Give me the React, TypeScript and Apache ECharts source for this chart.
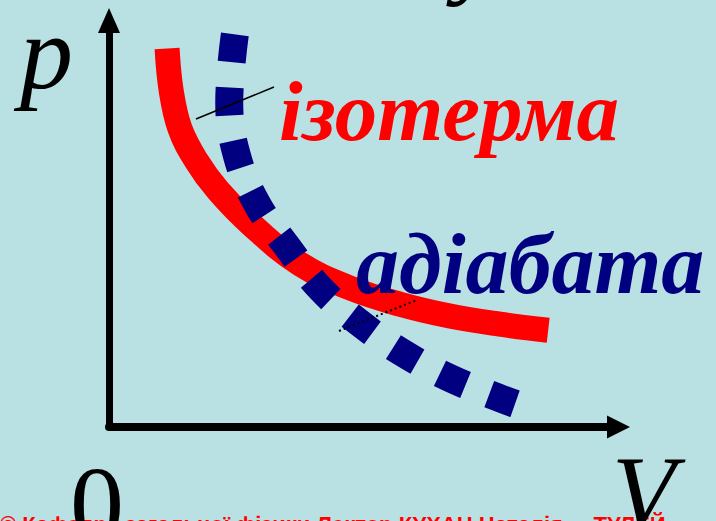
import React, { useEffect, useRef } from "react";
import * as echarts from "echarts";

// Isotherm (red, solid) — volume V and pressure p
const isoV = [1.14, 1.22, 1.39, 1.71, 2.14, 2.81, 3.75, 4.73, 5.71, 6.69, 7.67, 8.62];
const isoP = [9.31, 8.28, 7.35, 6.56, 5.82, 4.96, 4.01, 3.42, 3.02, 2.73, 2.53, 2.38];

// Adiabat (navy, square-dotted)
const adiV = [2.47, 2.36, 2.51, 2.91, 3.49, 4.16, 4.95, 5.81, 6.73, 7.71, 7.97];
const adiP = [9.66, 7.99, 6.68, 5.48, 4.45, 3.39, 2.53, 1.79, 1.18, 0.69, 0.57];

// Texts
const isoLabel = "ізотерма";
const adiLabel = "адіабата";
const yName = "p";
const xName = "V";
const originLabel = "0";
const footer = "© Кафедра загальної фізики Лектор КУХАН Наталія,    ТУЛЕЙ";

const SERIF = "'Liberation Serif', 'Times New Roman', serif";

export default function App() {
  const ref = useRef<HTMLDivElement>(null);
  useEffect(() => {
    if (!ref.current) return;
    const chart = echarts.init(ref.current, null, { renderer: "svg" });
    const zip = (a: number[], b: number[]) => a.map((v, i) => [v, b[i]]);
    chart.setOption({
      animation: false,
      backgroundColor: "#b9e0e3",
      grid: { left: 109, right: 97.5, top: 20.5, bottom: 94 },
      xAxis: {
        type: "value",
        min: 0,
        max: 10,
        axisLine: {
          show: true,
          symbol: ["none", "triangle"],
          symbolSize: [23, 23],
          lineStyle: { color: "#000", width: 8 },
        },
        axisTick: { show: false },
        axisLabel: { show: false },
        splitLine: { show: false },
      },
      yAxis: {
        type: "value",
        min: 0,
        max: 10,
        axisLine: {
          show: true,
          symbol: ["none", "triangle"],
          symbolSize: [22, 25],
          lineStyle: { color: "#000", width: 7 },
        },
        axisTick: { show: false },
        axisLabel: { show: false },
        splitLine: { show: false },
      },
      series: [
        {
          type: "line",
          data: zip(isoV, isoP),
          smooth: 0.4,
          showSymbol: false,
          lineStyle: { color: "#ff0000", width: 25, cap: "butt" },
          z: 2,
        },
        {
          type: "line",
          data: zip(adiV, adiP),
          smooth: 0.4,
          showSymbol: false,
          lineStyle: { color: "#000080", width: 28, cap: "butt", type: [28, 25.5] },
          z: 3,
        },
      ],
      graphic: [
        {
          type: "line",
          z: 50,
          shape: { x1: 196, y1: 119, x2: 274, y2: 87 },
          style: { stroke: "#000", lineWidth: 1.5 },
        },
        {
          type: "line",
          z: 50,
          shape: { x1: 339, y1: 331, x2: 417, y2: 300 },
          style: { stroke: "#000", lineWidth: 2, lineDash: [2, 3] },
        },
        {
          type: "text",
          z: 100,
          x: 279,
          y: 111,
          style: {
            text: isoLabel,
            font: `italic bold 85px ${SERIF}`,
            fill: "#ff0000",
            verticalAlign: "middle",
            align: "left",
          },
        },
        {
          type: "text",
          z: 100,
          x: 356,
          y: 264,
          style: {
            text: adiLabel,
            font: `italic bold 86px ${SERIF}`,
            fill: "#000080",
            verticalAlign: "middle",
            align: "left",
          },
        },
        {
          type: "text",
          z: 100,
          x: 20,
          y: 52,
          style: {
            text: yName,
            font: `italic 106px ${SERIF}`,
            fill: "#000",
            verticalAlign: "middle",
            align: "left",
          },
        },
        {
          type: "text",
          z: 100,
          x: 612,
          y: 491,
          style: {
            text: xName,
            font: `italic 104px ${SERIF}`,
            fill: "#000",
            verticalAlign: "middle",
            align: "left",
          },
        },
        {
          type: "text",
          z: 100,
          x: 97,
          y: 504,
          style: {
            text: originLabel,
            font: `108px ${SERIF}`,
            fill: "#000",
            verticalAlign: "middle",
            align: "center",
          },
        },
        {
          type: "text",
          z: 100,
          x: 455,
          y: -51,
          style: {
            text: "у",
            font: `italic 104px ${SERIF}`,
            fill: "#000",
            verticalAlign: "middle",
            align: "left",
          },
        },
        {
          type: "text",
          z: 90,
          x: 0,
          y: 524.5,
          style: {
            text: footer,
            font: `bold 22px 'Liberation Sans', Arial, sans-serif`,
            fill: "#ff0000",
            verticalAlign: "middle",
            align: "left",
          },
        },
      ],
    });
    return () => chart.dispose();
  }, []);
  return (
    <div
      ref={ref}
      style={{ position: "fixed", left: 0, top: 0, width: 716, height: 521 }}
    />
  );
}
